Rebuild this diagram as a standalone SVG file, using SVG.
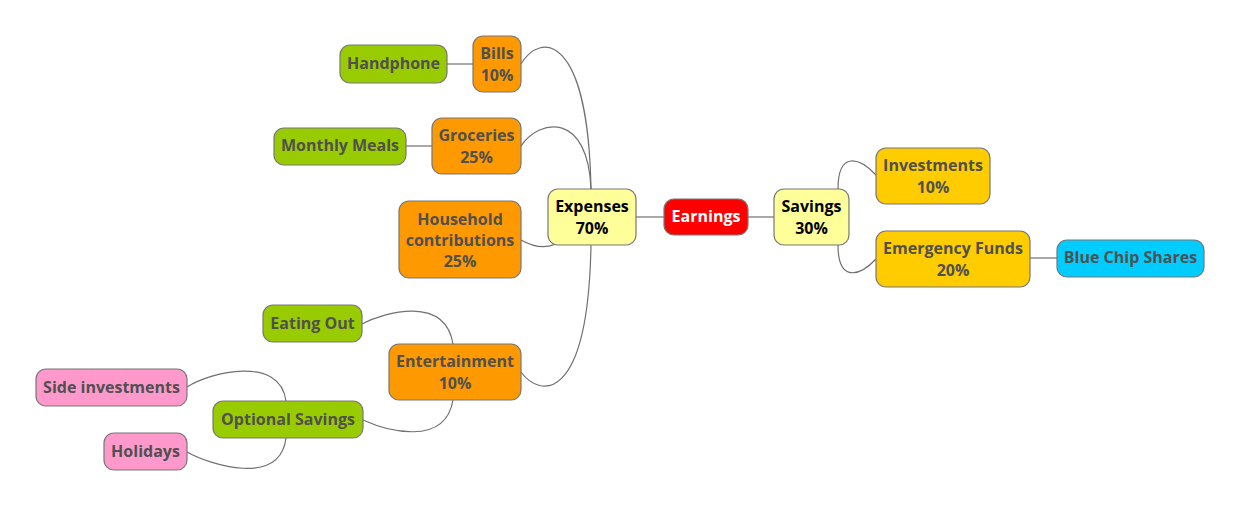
<svg xmlns="http://www.w3.org/2000/svg" width="1241" height="508" viewBox="0 0 1241 508">
<style>
.n rect{stroke:#777;stroke-width:1.2}
.n text{font-family:"Open Sans","Noto Sans","Liberation Sans",sans-serif;font-weight:bold;font-size:16px;fill:#505050;text-anchor:middle;dominant-baseline:central}
.c path{fill:none;stroke:#707070;stroke-width:1.2}
.root rect{fill:#ff0000}
.root text{fill:#fff}
.l1 rect{fill:#ffff99}
.l1 text{fill:#000}
.ora rect{fill:#ff9900}
.yel rect{fill:#ffcc00}
.grn rect{fill:#99cc00}
.blu rect{fill:#00ccff}
.pnk rect{fill:#ff99cc}
</style>
<rect width="1241" height="508" fill="#fff"/>
<g id="connectors" class="c">
<path d="M636,217 L664,217"/>
<path d="M748,217 L774,217"/>
<path d="M876,175 C860,158 838,150 838,189"/>
<path d="M876,259 C860,276 838,283 838,245"/>
<path d="M1030,258 L1057,258"/>
<path d="M521,64 C540,32 588,32 591,189"/>
<path d="M521,146 C540,118 588,112 591,189"/>
<path d="M521,240 C535,248 550,251 565,238"/>
<path d="M521,372 C540,398 588,404 591,245"/>
<path d="M447,64 L473,64"/>
<path d="M406,146 L432,146"/>
<path d="M362,324 C385,312 445,295 453,344"/>
<path d="M363,420 C385,430 445,448 453,400"/>
<path d="M187,387 C210,372 280,355 286,401"/>
<path d="M187,452 C210,465 280,487 286,438"/>
</g>
<g id="earnings" class="n root"><rect x="664" y="199" width="84" height="36" rx="10"/><text x="706" y="216">Earnings</text></g>
<g id="expenses" class="n l1"><rect x="548" y="189" width="88" height="56" rx="10"/><text x="592" y="206">Expenses</text><text x="592" y="228">70%</text></g>
<g id="savings" class="n l1"><rect x="774" y="189" width="75" height="56" rx="10"/><text x="811.5" y="206">Savings</text><text x="811.5" y="228">30%</text></g>
<g id="investments" class="n yel"><rect x="876" y="148" width="114" height="56" rx="10"/><text x="933" y="165">Investments</text><text x="933" y="187">10%</text></g>
<g id="emergency" class="n yel"><rect x="876" y="231" width="154" height="56" rx="10"/><text x="953" y="248">Emergency Funds</text><text x="953" y="270">20%</text></g>
<g id="bluechip" class="n blu"><rect x="1057" y="240" width="147" height="37" rx="10"/><text x="1130.5" y="257">Blue Chip Shares</text></g>
<g id="bills" class="n ora"><rect x="473" y="36" width="48" height="56" rx="10"/><text x="497" y="53">Bills</text><text x="497" y="75">10%</text></g>
<g id="handphone" class="n grn"><rect x="340" y="45" width="107" height="38" rx="10"/><text x="393.5" y="63">Handphone</text></g>
<g id="groceries" class="n ora"><rect x="432" y="118" width="89" height="56" rx="10"/><text x="476.5" y="135">Groceries</text><text x="476.5" y="157">25%</text></g>
<g id="monthlymeals" class="n grn"><rect x="274" y="128" width="132" height="37" rx="10"/><text x="340" y="145">Monthly Meals</text></g>
<g id="household" class="n ora"><rect x="399" y="201" width="122" height="77" rx="10"/><text x="460" y="219">Household</text><text x="460" y="240">contributions</text><text x="460" y="261">25%</text></g>
<g id="entertainment" class="n ora"><rect x="389" y="344" width="132" height="56" rx="10"/><text x="455" y="361">Entertainment</text><text x="455" y="383">10%</text></g>
<g id="eatingout" class="n grn"><rect x="263" y="305" width="99" height="37" rx="10"/><text x="312.5" y="322.5">Eating Out</text></g>
<g id="optionalsavings" class="n grn"><rect x="213" y="401" width="150" height="37" rx="10"/><text x="288" y="418.5">Optional Savings</text></g>
<g id="sideinvestments" class="n pnk"><rect x="36" y="369" width="151" height="37" rx="10"/><text x="111.5" y="386.5">Side investments</text></g>
<g id="holidays" class="n pnk"><rect x="104" y="433" width="83" height="37" rx="10"/><text x="145.5" y="450.5">Holidays</text></g>
</svg>
